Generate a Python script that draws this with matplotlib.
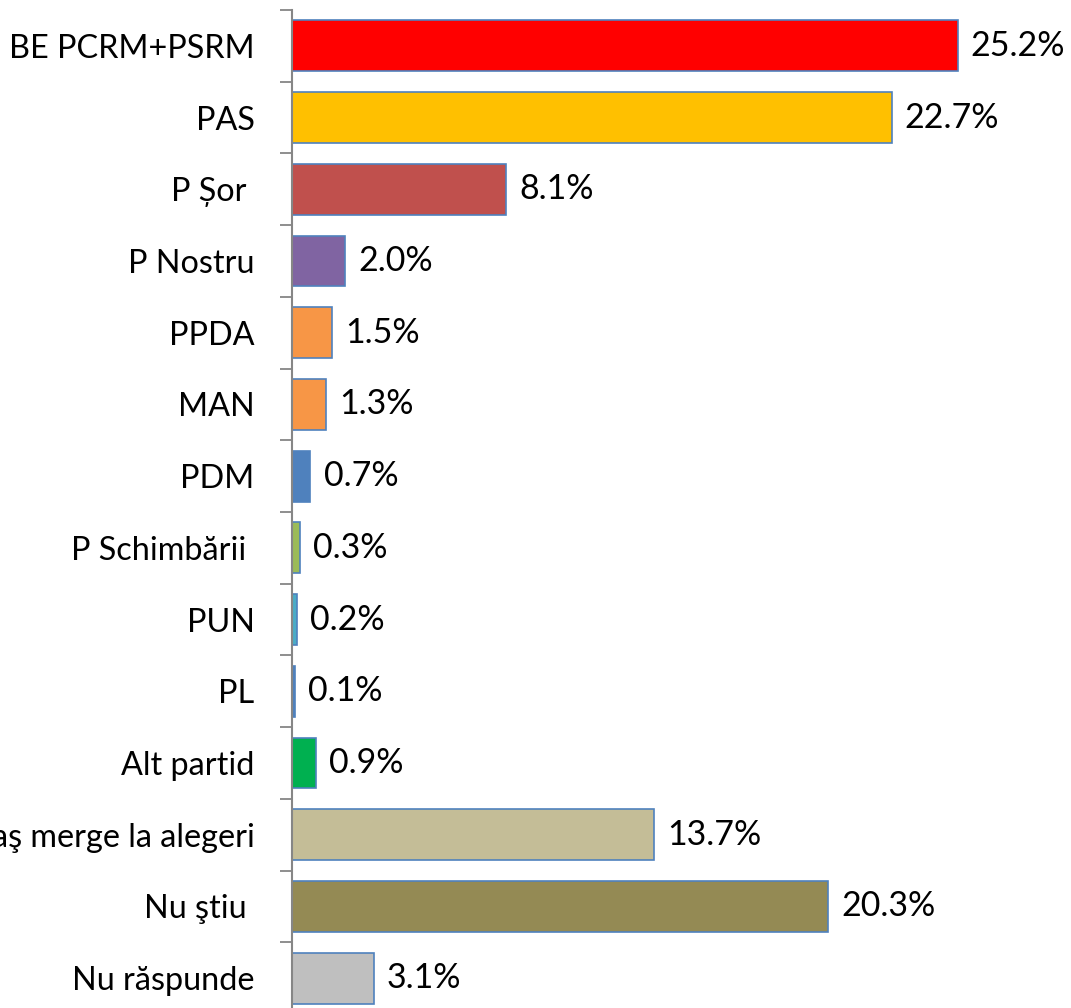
import matplotlib
matplotlib.use("Agg")
import matplotlib.pyplot as plt

categories = ["BE PCRM+PSRM", "PAS", "P Șor ", "P Nostru", "PPDA", "MAN", "PDM",
              "P Schimbării ", "PUN", "PL", "Alt partid", "Nu aş merge la alegeri",
              "Nu ştiu ", "Nu răspunde"]
values = [25.2, 22.7, 8.1, 2.0, 1.5, 1.3, 0.7, 0.3, 0.2, 0.1, 0.9, 13.7, 20.3, 3.1]
colors = ["#FF0000", "#FFC000", "#C0504D", "#8064A2", "#F79646", "#F79646", "#4F81BD",
          "#9BBB59", "#4BACC6", "#4F81BD", "#00B050", "#C4BD97", "#948A54", "#BFBFBF"]

plt.rcParams['font.family'] = ['Lato', 'DejaVu Sans']

fig = plt.figure(figsize=(10.71, 10.08), dpi=100)
ax = fig.add_axes([292 / 1071, -6 / 1008, 766 / 1071, 1004 / 1008])

pos = list(range(len(categories)))
ax.barh(pos, values, height=0.71, color=colors, edgecolor="#4F81BD", linewidth=1.2)

for p, v in zip(pos, values):
    ax.text(v + 0.5, p, f"{v:.1f}%", va="center", ha="left", fontsize=24.5)

ax.set_ylim(len(categories) - 0.5, -0.5)
ax.set_xlim(0, 29)

ax.set_yticks(pos)
ax.set_yticklabels(categories, fontsize=23.3)
ax.set_yticks([p - 0.5 for p in pos] + [len(categories) - 0.5], minor=True)
ax.tick_params(axis="y", which="major", length=0, pad=27)
ax.tick_params(axis="y", which="minor", length=9, width=1.3, color="#868686")
ax.set_xticks([])

for s in ["top", "right", "bottom"]:
    ax.spines[s].set_visible(False)
ax.spines["left"].set_color("#868686")
ax.spines["left"].set_linewidth(1.5)

fig.savefig("out.png", dpi=100)
